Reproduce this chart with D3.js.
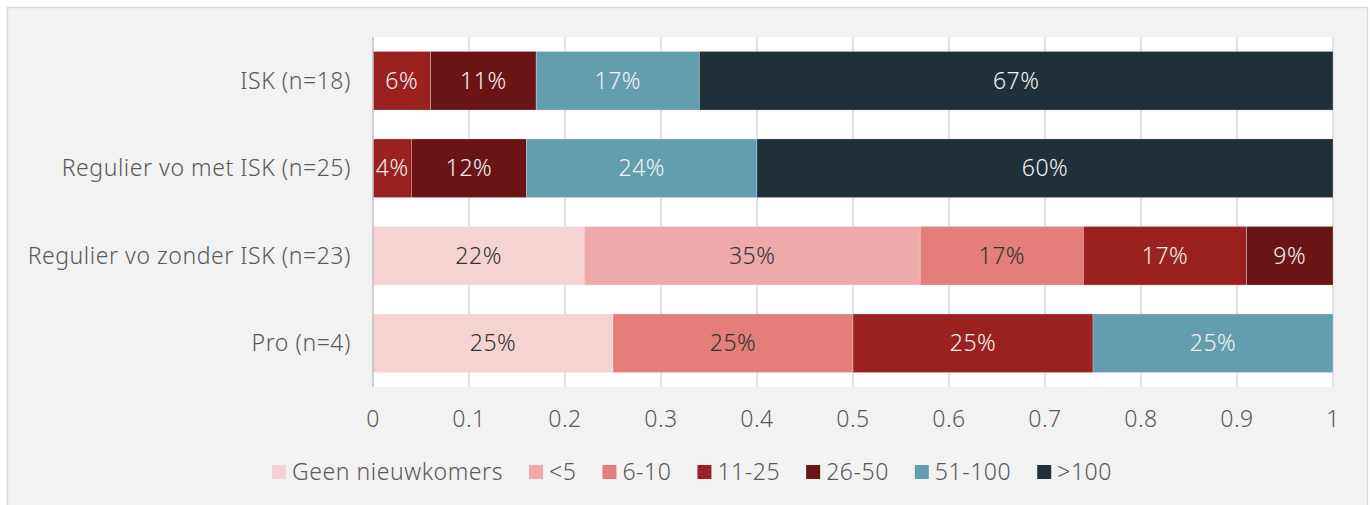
<!DOCTYPE html>
<html lang="nl">
<head>
    <meta charset="utf-8">
    <style>
        html, body {
            margin: 0;
            padding: 0;
            background: #ffffff;
            font-family: "Noto Sans", "Open Sans", sans-serif;
            font-weight: 300;
        }
        svg { display: block; }
        .grid line { stroke: #d9d9d9; stroke-width: 1.5; }
        text { fill: #595959; font-size: 23px; letter-spacing: 0.55px; }
    </style>
</head>
<body>
<script src="https://cdnjs.cloudflare.com/ajax/libs/d3/7.8.5/d3.min.js"></script>
<script>
// categories (top to bottom)
var groups = ['ISK (n=18)', 'Regulier vo met ISK (n=25)', 'Regulier vo zonder ISK (n=23)', 'Pro (n=4)'];
// legend / series
var series = ['Geen nieuwkomers', '<5', '6-10', '11-25', '26-50', '51-100', '>100'];
var colors = ['#f5d3d3', '#eea9a9', '#e47e7b', '#9b2121', '#6a1515', '#639eaf', '#1f3038'];
var darkText = [true, true, true, false, false, false, false];

// shares per group, in series order
var isk = [0, 0, 0, 0.06, 0.11, 0.17, 0.67];
var metIsk = [0, 0, 0, 0.04, 0.12, 0.24, 0.60];
var zonderIsk = [0.22, 0.35, 0.17, 0.17, 0.09, 0, 0];
var pro = [0.25, 0, 0.25, 0.25, 0, 0.25, 0];
var values = [isk, metIsk, zonderIsk, pro];

var xTicks = [0, 0.1, 0.2, 0.3, 0.4, 0.5, 0.6, 0.7, 0.8, 0.9, 1];

(function() {
    var W = 1370, H = 505;
    var svg = d3.select('body').append('svg')
        .attr('width', W)
        .attr('height', H);

    // chart frame
    svg.append('rect')
        .attr('x', 7.5).attr('y', 7.5)
        .attr('width', 1360).attr('height', 520)
        .attr('fill', '#f2f2f2')
        .attr('stroke', '#d9d9d9')
        .attr('stroke-width', 1.5);

    var left = 373, right = 1333, top = 37, bottom = 387;

    var x = d3.scaleLinear().domain([0, 1]).range([left, right]);
    var y = d3.scaleBand().domain(groups).range([top, bottom]).paddingInner(0.33).paddingOuter(0.165);

    // plot area
    svg.append('rect')
        .attr('x', left).attr('y', top)
        .attr('width', right - left).attr('height', bottom - top)
        .attr('fill', '#ffffff');

    // gridlines
    svg.append('g').attr('class', 'grid')
        .selectAll('line')
        .data(xTicks.slice(1))
        .enter().append('line')
        .attr('x1', function (d) { return x(d); })
        .attr('x2', function (d) { return x(d); })
        .attr('y1', top).attr('y2', bottom);

    // stacked segments
    var stacked = [];
    values.forEach(function (row, gi) {
        var acc = 0;
        row.forEach(function (v, si) {
            if (v > 0) {
                stacked.push({ g: groups[gi], s: si, x0: acc, x1: acc + v, v: v });
            }
            acc += v;
        });
    });

    var seg = svg.append('g').selectAll('g')
        .data(stacked)
        .enter().append('g');

    seg.append('rect')
        .attr('x', function (d) { return x(d.x0); })
        .attr('y', function (d) { return y(d.g); })
        .attr('width', function (d) { return x(Math.min(d.x1, 1)) - x(d.x0); })
        .attr('height', y.bandwidth())
        .attr('fill', function (d) { return colors[d.s]; })
        .attr('stroke', 'rgba(255,255,255,0.35)')
        .attr('stroke-width', 0.75);

    seg.append('text')
        .attr('x', function (d) { return (x(d.x0) + x(Math.min(d.x1, 1))) / 2; })
        .attr('y', function (d) { return y(d.g) + y.bandwidth() / 2; })
        .attr('dy', '0.35em')
        .attr('text-anchor', 'middle')
        .style('fill', function (d) { return darkText[d.s] ? '#333333' : '#f2f2f2'; })
        .text(function (d) { return Math.round(d.v * 100) + '%'; });

    // vertical axis line
    svg.append('line')
        .attr('x1', left).attr('x2', left)
        .attr('y1', top).attr('y2', bottom)
        .attr('stroke', '#bfbfbf').attr('stroke-width', 1.5);

    // category labels
    svg.append('g').selectAll('text')
        .data(groups)
        .enter().append('text')
        .attr('x', left - 22)
        .attr('y', function (d) { return y(d) + y.bandwidth() / 2; })
        .attr('dy', '0.35em')
        .attr('text-anchor', 'end')
        .text(function (d) { return d; });

    // x tick labels
    svg.append('g').selectAll('text')
        .data(xTicks)
        .enter().append('text')
        .attr('x', function (d) { return x(d); })
        .attr('y', 418.5)
        .attr('dy', '0.35em')
        .attr('text-anchor', 'middle')
        .text(function (d) { return d3.format('~g')(d); });

    // legend
    var legend = svg.append('g');
    var items = legend.selectAll('g')
        .data(series)
        .enter().append('g');
    items.append('rect')
        .attr('width', 14).attr('height', 14)
        .attr('y', 465)
        .attr('fill', function (d, i) { return colors[i]; });
    items.append('text')
        .attr('x', 20)
        .attr('y', 471.5)
        .attr('dy', '0.35em')
        .text(function (d) { return d; });

    var gap = 26;
    var offsets = [], pos = 0;
    items.each(function () {
        offsets.push(pos);
        pos += 20 + this.querySelector('text').getComputedTextLength() + gap;
    });
    var total = pos - gap;
    var start = 692 - total / 2;
    items.attr('transform', function (d, i) { return 'translate(' + (start + offsets[i]) + ',0)'; });
})();
</script>
</body>
</html>
